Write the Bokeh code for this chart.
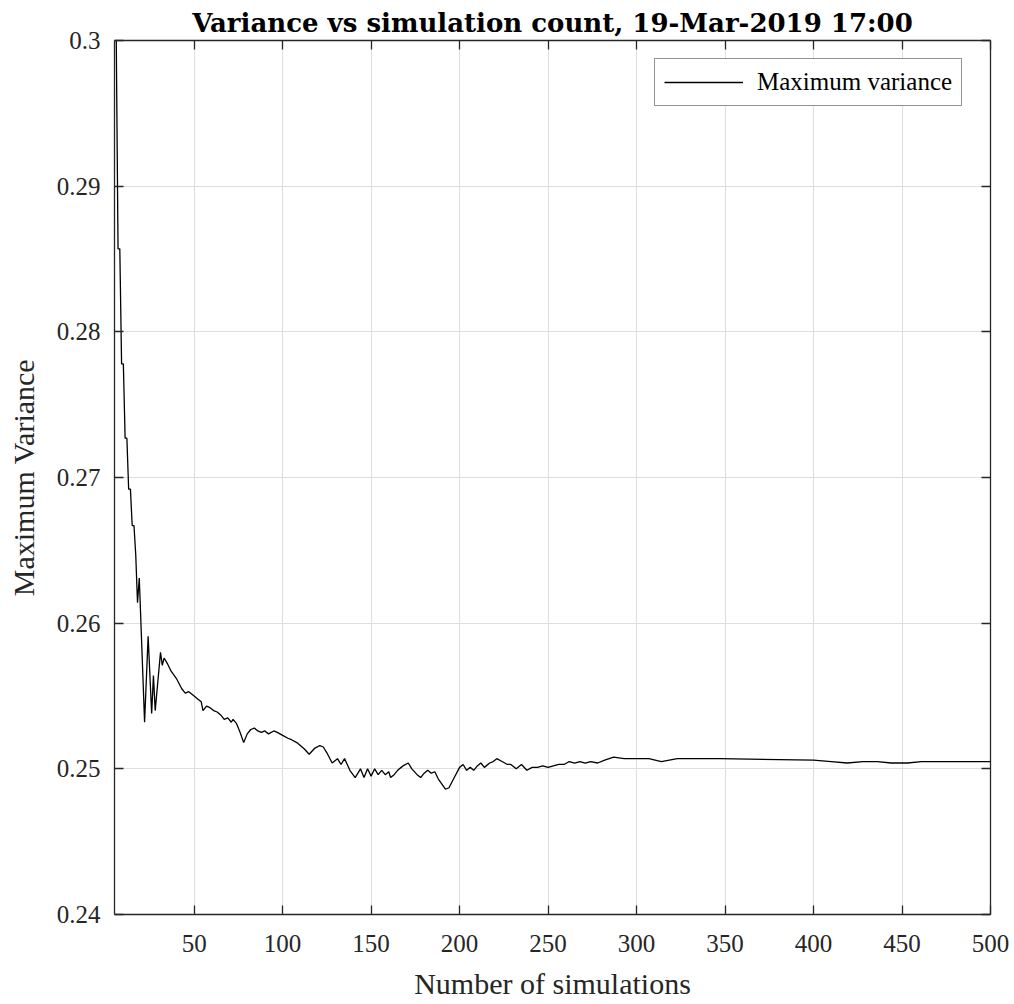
from bokeh.plotting import figure
from bokeh.models import LinearAxis, FixedTicker, Range1d, Legend, LegendItem
from bokeh.embed import file_html
from bokeh.resources import INLINE

# Data
n_sims = [4, 5, 6, 7, 8, 9, 10, 11, 12, 13, 14, 15, 16, 17, 18, 19, 22, 24, 26, 27, 28,
          31, 32, 33, 35, 37, 40, 43, 45, 47, 50, 52, 54, 55, 57, 59, 61, 63, 65, 67,
          69, 71, 72, 74, 76, 78, 80, 82, 84, 86, 88, 90, 92, 95, 97, 100, 103, 105,
          108, 110, 112, 115, 118, 121, 123, 125, 128, 131, 133, 135, 138, 141, 144,
          146, 148, 150, 152, 154, 156, 158, 160, 161, 163, 165, 167, 168, 171, 173,
          176, 178, 180, 182, 184, 186, 188, 192, 194, 197, 200, 202, 204, 206, 208,
          210, 212, 214, 217, 219, 221, 224, 227, 229, 232, 235, 238, 241, 244, 247,
          250, 253, 256, 259, 262, 265, 268, 271, 274, 278, 282, 287, 293, 300, 307,
          314, 323, 347, 400, 410, 419, 428, 436, 444, 453, 461, 500]
max_variance = [0.3333, 0.3000, 0.3000, 0.2857, 0.2857, 0.2778, 0.2778, 0.2727, 0.2727,
                0.2692, 0.2692, 0.2667, 0.2667, 0.2647, 0.2614, 0.2631, 0.2532, 0.2591,
                0.2538, 0.2564, 0.2540, 0.2580, 0.2571, 0.2576, 0.2572, 0.2567, 0.2562,
                0.2555, 0.2552, 0.2553, 0.2550, 0.2548, 0.2546, 0.2540, 0.2543, 0.2542,
                0.2540, 0.2539, 0.2537, 0.2534, 0.2535, 0.2532, 0.2534, 0.2531, 0.2525,
                0.2518, 0.2524, 0.2527, 0.2528, 0.2526, 0.2525, 0.2526, 0.2524, 0.2526,
                0.2525, 0.2523, 0.2521, 0.2520, 0.2518, 0.2516, 0.2514, 0.2510, 0.2514,
                0.2516, 0.2515, 0.2511, 0.2504, 0.2507, 0.2503, 0.2507, 0.2499, 0.2494,
                0.2500, 0.2494, 0.2500, 0.2495, 0.2500, 0.2496, 0.2499, 0.2496, 0.2498,
                0.2494, 0.2496, 0.2499, 0.2501, 0.2502, 0.2504, 0.2500, 0.2496, 0.2494,
                0.2497, 0.2499, 0.2497, 0.2498, 0.2493, 0.2486, 0.2487, 0.2494, 0.2501,
                0.2503, 0.2499, 0.2501, 0.2499, 0.2502, 0.2504, 0.2501, 0.2504, 0.2505,
                0.2507, 0.2505, 0.2503, 0.2503, 0.2500, 0.2503, 0.2499, 0.2501, 0.2501,
                0.2502, 0.2501, 0.2502, 0.2503, 0.2503, 0.2505, 0.2504, 0.2505, 0.2504,
                0.2505, 0.2504, 0.2506, 0.2508, 0.2507, 0.2507, 0.2507, 0.2505, 0.2507,
                0.2507, 0.2506, 0.2505, 0.2504, 0.2505, 0.2505, 0.2504, 0.2504, 0.2505,
                0.2505]

x_ticks = [50, 100, 150, 200, 250, 300, 350, 400, 450, 500]
y_ticks = [0.24, 0.25, 0.26, 0.27, 0.28, 0.29, 0.30]
y_tick_labels = ["0.24", "0.25", "0.26", "0.27", "0.28", "0.29", "0.3"]

FONT = "Liberation Serif"
AXIS_COLOR = "#262626"

p = figure(width=1014, height=1004, output_backend="svg", toolbar_location=None,
           x_range=Range1d(5, 500), y_range=Range1d(0.24, 0.30),
           min_border_left=114, min_border_right=24, min_border_top=40,
           min_border_bottom=90, background_fill_color="white",
           border_fill_color="white", outline_line_color=None)

p.title.text = "Variance vs simulation count, 19-Mar-2019 17:00"
p.title.text_font = "DejaVu Serif"
p.title.text_font_size = "26px"
p.title.text_font_style = "bold"
p.title.align = "center"
p.title.text_color = "black"
p.title.standoff = 6

r = p.line(n_sims, max_variance, line_color="black", line_width=1.3)

def style_axis(ax):
    ax.axis_line_color = AXIS_COLOR
    ax.axis_line_width = 1.3
    ax.major_tick_line_color = AXIS_COLOR
    ax.major_tick_line_width = 1.3
    ax.major_tick_in = 9
    ax.major_tick_out = 0
    ax.minor_tick_line_color = None
    ax.major_label_text_font = FONT
    ax.major_label_text_font_size = "25px"
    ax.major_label_text_color = "#262626"
    ax.axis_label_text_font = FONT
    ax.axis_label_text_font_size = "30px"
    ax.axis_label_text_font_style = "normal"
    ax.axis_label_text_color = "#262626"

xa = p.xaxis[0]
xa.ticker = FixedTicker(ticks=x_ticks)
xa.axis_label = "Number of simulations"
style_axis(xa)
xa.major_label_standoff = 20
xa.axis_label_standoff = 12

ya = p.yaxis[0]
ya.ticker = FixedTicker(ticks=y_ticks)
ya.major_label_overrides = dict(zip(y_ticks, y_tick_labels))
ya.axis_label = "Maximum Variance"
style_axis(ya)
ya.major_label_standoff = 14
ya.axis_label_standoff = 14

top_ax = LinearAxis(ticker=FixedTicker(ticks=x_ticks))
style_axis(top_ax)
top_ax.major_label_overrides = {t: "" for t in x_ticks}
top_ax.major_label_standoff = 0
p.add_layout(top_ax, "above")

right_ax = LinearAxis(ticker=FixedTicker(ticks=y_ticks))
style_axis(right_ax)
right_ax.major_label_overrides = {t: "" for t in y_ticks}
right_ax.major_label_standoff = 0
p.add_layout(right_ax, "right")

p.xgrid.ticker = FixedTicker(ticks=x_ticks)
p.ygrid.ticker = FixedTicker(ticks=y_ticks)
p.xgrid.grid_line_color = "#dedede"
p.ygrid.grid_line_color = "#dedede"
p.xgrid.grid_line_width = 1
p.ygrid.grid_line_width = 1

legend = Legend(items=[LegendItem(label="Maximum variance", renderers=[r])],
                location=(540, 808), margin=0)
legend.label_text_font = FONT
legend.label_text_font_size = "25px"
legend.label_text_color = "black"
legend.glyph_width = 79
legend.glyph_height = 22
legend.label_standoff = 14
legend.padding = 9
legend.border_line_color = "#262626"
legend.border_line_width = 1.2
legend.background_fill_color = "white"
legend.background_fill_alpha = 1.0
p.add_layout(legend, "center")

open("out.html", "w").write(file_html(p, INLINE))
